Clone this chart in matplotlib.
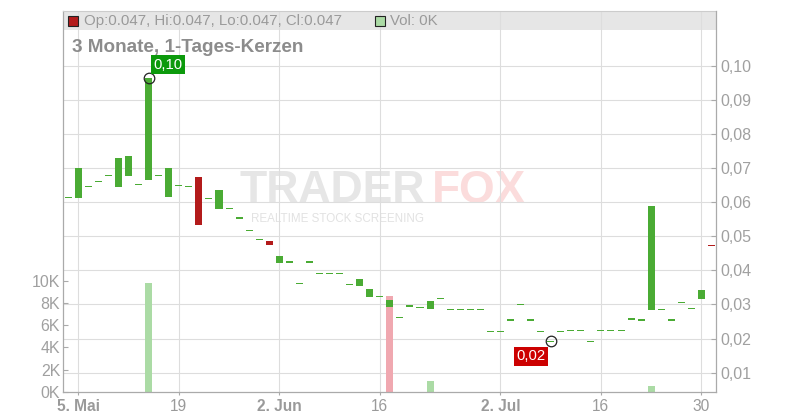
import numpy as np
import pandas as pd
import matplotlib
matplotlib.use("Agg")
import matplotlib.pyplot as plt
import matplotlib.transforms as mtransforms
from matplotlib.patches import Rectangle

plt.rcParams['font.family'] = ['Liberation Sans', 'DejaVu Sans']

# ---------------- data ----------------
dates = pd.bdate_range('2025-05-02', '2025-07-31')

opens = [0.0614, 0.0612, 0.0646, 0.0661, 0.0679, 0.0644, 0.0678, 0.0652, 0.0666, 0.0679,
         0.0616, 0.0649, 0.0646, 0.0673, 0.0611, 0.0581, 0.0582, 0.0553, 0.0517, 0.0491,
         0.0486, 0.0422, 0.0424, 0.0362, 0.0424, 0.0391, 0.0391, 0.0391, 0.0359, 0.0354,
         0.0323, 0.0324, 0.0293, 0.0262, 0.0295, 0.0292, 0.0288, 0.0318, 0.0286, 0.0286,
         0.0286, 0.0286, 0.0221, 0.0221, 0.0254, 0.0300, 0.0254, 0.0221, 0.0192, 0.0221,
         0.0224, 0.0224, 0.0192, 0.0224, 0.0224, 0.0224, 0.0257, 0.0254, 0.0285, 0.0286,
         0.0254, 0.0306, 0.0289, 0.0317, 0.0473]
closes = [0.0614, 0.0700, 0.0646, 0.0661, 0.0679, 0.0729, 0.0735, 0.0652, 0.0965, 0.0679,
          0.0700, 0.0649, 0.0646, 0.0534, 0.0611, 0.0636, 0.0582, 0.0553, 0.0517, 0.0491,
          0.0475, 0.0442, 0.0424, 0.0362, 0.0424, 0.0391, 0.0391, 0.0391, 0.0359, 0.0375,
          0.0345, 0.0324, 0.0313, 0.0262, 0.0295, 0.0292, 0.0310, 0.0318, 0.0286, 0.0286,
          0.0286, 0.0286, 0.0221, 0.0221, 0.0254, 0.0300, 0.0254, 0.0221, 0.0192, 0.0221,
          0.0224, 0.0224, 0.0192, 0.0224, 0.0224, 0.0224, 0.0257, 0.0254, 0.0589, 0.0286,
          0.0254, 0.0306, 0.0289, 0.0342, 0.0471]

vol_dates = ['2025-05-14', '2025-06-17', '2025-06-23', '2025-07-23']
volumes = [9800, 8650, 1000, 550]
vol_dir = ['up', 'down', 'up', 'up']
last_volume = 0

tick_dates = ['2025-05-05', '2025-05-19', '2025-06-02', '2025-06-16',
              '2025-07-02', '2025-07-16', '2025-07-30']
tick_labels = ['5. Mai', '19', '2. Jun', '16', '2. Jul', '16', '30']
tick_bold = [True, False, True, False, True, False, False]

price_ticks = [0.01, 0.02, 0.03, 0.04, 0.05, 0.06, 0.07, 0.08, 0.09, 0.10]
vol_ticks = [0, 2000, 4000, 6000, 8000, 10000]

title = "3 Monate, 1-Tages-Kerzen"

# ---------------- styles ----------------
GREEN = '#4aab34'
RED = '#b31b1b'
VOL_GREEN = '#abdba5'
VOL_RED = '#f0a8b0'
GRID = '#dddddd'
AXC = '#aaaaaa'
TXT = '#a0a0a0'

W, H = 800, 420
fig = plt.figure(figsize=(W / 100, H / 100), dpi=100)
fig.patch.set_facecolor('white')

L, R, B, T = 63, 716, 392, 11
ax_v = fig.add_axes([L / W, (H - B) / H, (R - L) / W, (B - T) / H])
ax_p = ax_v.twinx()

n = len(dates)
x = np.arange(n)
date_index = {d.strftime('%Y-%m-%d'): i for i, d in enumerate(dates)}

ax_v.set_xlim(-0.52, n - 0.55)
ax_v.set_ylim(0, 34230)
ax_p.set_ylim(0.00434, 0.11604)

# legend bar background
bar_h = 18.5 / (B - T)
ax_v.add_patch(Rectangle((0, 1 - bar_h), 1, bar_h, transform=ax_v.transAxes,
                         facecolor='#e6e6e6', edgecolor='none', zorder=0.3, clip_on=False))

# watermark
ax_v.text(239 / W, 1 - 191 / H, "TRADER", transform=fig.transFigure, fontsize=32,
          fontweight='bold', color='#e6e6e6', va='center', ha='left', zorder=0.2)
ax_v.text(432 / W, 1 - 191 / H, "FOX", transform=fig.transFigure, fontsize=33,
          fontweight='bold', color='#fbdcdc', va='center', ha='left', zorder=0.2)
ax_v.text(251 / W, 1 - 219 / H, "REALTIME STOCK SCREENING", transform=fig.transFigure,
          fontsize=8.4, color='#e2e2e2', va='center', ha='left', zorder=0.2)

# grid
xt = [date_index[d] for d in tick_dates]
ax_v.set_xticks(xt)
ax_v.set_xticklabels(tick_labels)
for lab, b in zip(ax_v.get_xticklabels(), tick_bold):
    lab.set_fontweight('bold' if b else 'normal')
ax_v.grid(axis='x', color=GRID, lw=0.8)
ax_v.set_axisbelow(True)
blend = mtransforms.blended_transform_factory(ax_v.transAxes, ax_p.transData)
for p in price_ticks:
    ax_v.plot([0, 1], [p, p], transform=blend, color=GRID, lw=0.8, zorder=0.5)

# volume
vx = [date_index[d] for d in vol_dates]
vcol = [VOL_GREEN if d == 'up' else VOL_RED for d in vol_dir]
ax_v.bar(vx, volumes, width=0.7, color=vcol, linewidth=0, zorder=2)

# candles
o = np.array(opens)
c = np.array(closes)
minh = 0.0004
bottoms = np.minimum(o, c)
heights = np.abs(c - o)
small = heights < minh
bottoms[small] = (o[small] + c[small]) / 2 - minh / 2
heights[small] = minh
ccol = [GREEN if cc >= oo else RED for oo, cc in zip(o, c)]
ax_p.bar(x, heights, bottom=bottoms, width=0.7, color=ccol, linewidth=0, zorder=3)

# max / min markers
hi_vals = np.maximum(o, c)
lo_vals = np.minimum(o, c)
imax = int(np.argmax(hi_vals))
imin = int(np.argmin(lo_vals))
ax_p.plot([imax], [hi_vals[imax]], 'o', mfc='none', mec='#222222', ms=7.6, mew=0.9, zorder=5)
ax_p.plot([imin], [lo_vals[imin]], 'o', mfc='none', mec='#222222', ms=7.6, mew=0.9, zorder=5)


def fmt(v):
    return f"{v:.2f}".replace('.', ',')


ax_p.annotate(fmt(hi_vals[imax]), (imax, hi_vals[imax]), xytext=(5, 6),
              textcoords='offset pixels', ha='left', va='bottom', color='white',
              fontsize=10.7, zorder=6,
              bbox=dict(boxstyle='square,pad=0.18', facecolor='#0c9a0c', edgecolor='none'))
ax_p.annotate(fmt(lo_vals[imin]), (imin, lo_vals[imin]), xytext=(-5, -8),
              textcoords='offset pixels', ha='right', va='top', color='white',
              fontsize=10.7, zorder=6,
              bbox=dict(boxstyle='square,pad=0.18', facecolor='#cc0000', edgecolor='none'))

# axes styling
ax_v.set_yticks(vol_ticks)
ax_v.set_yticklabels([f"{v // 1000}K" for v in vol_ticks])
ax_v.tick_params(axis='y', direction='in', length=3.6, width=0.8, color=AXC,
                 labelcolor=TXT, labelsize=11.5, pad=2)
ax_v.tick_params(axis='x', direction='out', length=2.5, width=0.8, color=AXC,
                 labelcolor='#9a9a9a', labelsize=11.2, pad=2.5)
ax_p.set_yticks(price_ticks)
ax_p.set_yticklabels([fmt(p) for p in price_ticks])
ax_p.tick_params(axis='y', direction='in', length=3.3, width=0.8, color=AXC,
                 labelcolor=TXT, labelsize=11.5, pad=3)

for s in ['left', 'bottom']:
    ax_v.spines[s].set_color(AXC)
    ax_v.spines[s].set_linewidth(0.9)
ax_v.spines['right'].set_visible(False)
ax_v.spines['top'].set_color('#cccccc')
ax_v.spines['top'].set_linewidth(0.8)
for s in ['left', 'bottom', 'top']:
    ax_p.spines[s].set_visible(False)
ax_p.spines['right'].set_color(AXC)
ax_p.spines['right'].set_linewidth(0.9)

# title and legend line
fig.text(72 / W, 1 - 48 / H, title, fontsize=13.6, fontweight='bold', color='#8c8c8c',
         va='center', ha='left')
fig.patches.append(Rectangle((68 / W, 1 - 26 / H), 10 / W, 10 / H, transform=fig.transFigure,
                             facecolor=RED if c[-1] < o[-1] else GREEN, edgecolor='#222222', lw=0.8))
fig.text(84 / W, 1 - 21 / H,
         f"Op:{o[-1]:.3f}, Hi:{hi_vals[-1]:.3f}, Lo:{lo_vals[-1]:.3f}, Cl:{c[-1]:.3f}",
         fontsize=10.8, color='#9a9a9a', va='center', ha='left')
fig.patches.append(Rectangle((375 / W, 1 - 26 / H), 10 / W, 10 / H, transform=fig.transFigure,
                             facecolor=VOL_GREEN, edgecolor='#222222', lw=0.8))
fig.text(390 / W, 1 - 21 / H, f"Vol: {last_volume // 1000}K", fontsize=10.8, color='#9a9a9a',
         va='center', ha='left')

fig.savefig('out.png', dpi=100)
